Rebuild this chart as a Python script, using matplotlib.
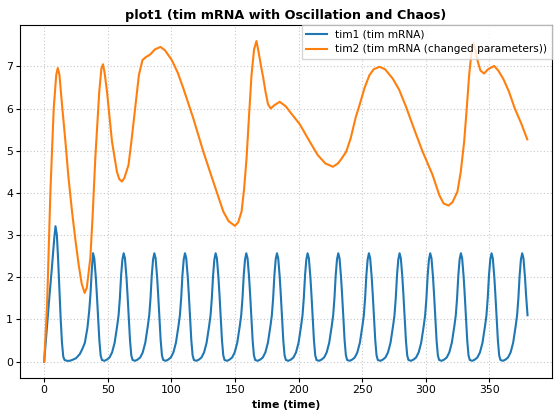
import matplotlib
matplotlib.use("Agg")
import matplotlib.pyplot as plt

# ---- tim1 (tim mRNA) ----
tim1_t = [
    0, 2, 4, 6, 8, 8.9, 10, 11, 12, 13, 14, 15, 16, 18, 20, 22, 25, 28, 30, 32, 34, 35.4, 36.4, 37.4,
    38.4, 39.4, 40.6, 41.4, 42.4, 43.4, 44.4, 45.4, 47.4, 49.4, 51.4, 53.4, 55.4, 57.4, 58.5, 59.5, 60.5, 61.5,
    62.5, 63.5, 64.7, 65.5, 66.5, 67.5, 68.5, 69.5, 71.5, 73.5, 75.5, 77.5, 79.5, 81.5, 82.6, 83.6, 84.6, 85.6,
    86.6, 87.6, 88.8, 89.6, 90.6, 91.6, 92.6, 93.6, 95.6, 97.6, 99.6, 101.6, 103.6, 105.6, 106.7, 107.7, 108.7, 109.7,
    110.7, 111.7, 112.9, 113.7, 114.7, 115.7, 116.7, 117.7, 119.7, 121.7, 123.7, 125.7, 127.7, 129.7, 130.8, 131.8, 132.8, 133.8,
    134.8, 135.8, 137.0, 137.8, 138.8, 139.8, 140.8, 141.8, 143.8, 145.8, 147.8, 149.8, 151.8, 153.8, 154.9, 155.9, 156.9, 157.9,
    158.9, 159.9, 161.1, 161.9, 162.9, 163.9, 164.9, 165.9, 167.9, 169.9, 171.9, 173.9, 175.9, 177.9, 179.0, 180.0, 181.0, 182.0,
    183.0, 184.0, 185.2, 186.0, 187.0, 188.0, 189.0, 190.0, 192.0, 194.0, 196.0, 198.0, 200.0, 202.0, 203.1, 204.1, 205.1, 206.1,
    207.1, 208.1, 209.3, 210.1, 211.1, 212.1, 213.1, 214.1, 216.1, 218.1, 220.1, 222.1, 224.1, 226.1, 227.2, 228.2, 229.2, 230.2,
    231.2, 232.2, 233.4, 234.2, 235.2, 236.2, 237.2, 238.2, 240.2, 242.2, 244.2, 246.2, 248.2, 250.2, 251.3, 252.3, 253.3, 254.3,
    255.3, 256.3, 257.5, 258.3, 259.3, 260.3, 261.3, 262.3, 264.3, 266.3, 268.3, 270.3, 272.3, 274.3, 275.4, 276.4, 277.4, 278.4,
    279.4, 280.4, 281.6, 282.4, 283.4, 284.4, 285.4, 286.4, 288.4, 290.4, 292.4, 294.4, 296.4, 298.4, 299.5, 300.5, 301.5, 302.5,
    303.5, 304.5, 305.7, 306.5, 307.5, 308.5, 309.5, 310.5, 312.5, 314.5, 316.5, 318.5, 320.5, 322.5, 323.6, 324.6, 325.6, 326.6,
    327.6, 328.6, 329.8, 330.6, 331.6, 332.6, 333.6, 334.6, 336.6, 338.6, 340.6, 342.6, 344.6, 346.6, 347.7, 348.7, 349.7, 350.7,
    351.7, 352.7, 353.9, 354.7, 355.7, 356.7, 357.7, 358.7, 360.7, 362.7, 364.7, 366.7, 368.7, 370.7, 371.8, 372.8, 373.8, 374.8,
    375.8, 376.8, 378.0, 378.8, 380.0,
]
tim1_v = [
    0, 0.75, 1.5, 2.2, 2.95, 3.21, 3.0, 2.4, 1.7, 1.0, 0.45, 0.12, 0.04, 0.02, 0.02, 0.04, 0.08, 0.18, 0.3, 0.45, 0.8, 1.2, 1.6, 2.15,
    2.57, 2.45, 2.0, 1.6, 1.05, 0.5, 0.15, 0.04, 0.02, 0.05, 0.1, 0.22, 0.45, 0.85, 1.1, 1.5, 2.05, 2.42,
    2.57, 2.45, 2.0, 1.6, 1.05, 0.5, 0.15, 0.04, 0.02, 0.05, 0.1, 0.22, 0.45, 0.85, 1.1, 1.5, 2.05, 2.42,
    2.57, 2.45, 2.0, 1.6, 1.05, 0.5, 0.15, 0.04, 0.02, 0.05, 0.1, 0.22, 0.45, 0.85, 1.1, 1.5, 2.05, 2.42,
    2.57, 2.45, 2.0, 1.6, 1.05, 0.5, 0.15, 0.04, 0.02, 0.05, 0.1, 0.22, 0.45, 0.85, 1.1, 1.5, 2.05, 2.42,
    2.57, 2.45, 2.0, 1.6, 1.05, 0.5, 0.15, 0.04, 0.02, 0.05, 0.1, 0.22, 0.45, 0.85, 1.1, 1.5, 2.05, 2.42,
    2.57, 2.45, 2.0, 1.6, 1.05, 0.5, 0.15, 0.04, 0.02, 0.05, 0.1, 0.22, 0.45, 0.85, 1.1, 1.5, 2.05, 2.42,
    2.57, 2.45, 2.0, 1.6, 1.05, 0.5, 0.15, 0.04, 0.02, 0.05, 0.1, 0.22, 0.45, 0.85, 1.1, 1.5, 2.05, 2.42,
    2.57, 2.45, 2.0, 1.6, 1.05, 0.5, 0.15, 0.04, 0.02, 0.05, 0.1, 0.22, 0.45, 0.85, 1.1, 1.5, 2.05, 2.42,
    2.57, 2.45, 2.0, 1.6, 1.05, 0.5, 0.15, 0.04, 0.02, 0.05, 0.1, 0.22, 0.45, 0.85, 1.1, 1.5, 2.05, 2.42,
    2.57, 2.45, 2.0, 1.6, 1.05, 0.5, 0.15, 0.04, 0.02, 0.05, 0.1, 0.22, 0.45, 0.85, 1.1, 1.5, 2.05, 2.42,
    2.57, 2.45, 2.0, 1.6, 1.05, 0.5, 0.15, 0.04, 0.02, 0.05, 0.1, 0.22, 0.45, 0.85, 1.1, 1.5, 2.05, 2.42,
    2.57, 2.45, 2.0, 1.6, 1.05, 0.5, 0.15, 0.04, 0.02, 0.05, 0.1, 0.22, 0.45, 0.85, 1.1, 1.5, 2.05, 2.42,
    2.57, 2.45, 2.0, 1.6, 1.05, 0.5, 0.15, 0.04, 0.02, 0.05, 0.1, 0.22, 0.45, 0.85, 1.1, 1.5, 2.05, 2.42,
    2.57, 2.45, 2.0, 1.6, 1.05, 0.5, 0.15, 0.04, 0.02, 0.05, 0.1, 0.22, 0.45, 0.85, 1.1, 1.5, 2.05, 2.42,
    2.57, 2.45, 2.0, 1.6, 1.1,
]

# ---- tim2 (tim mRNA, changed parameters) ----
tim2_t = [
    0, 2.3, 4.9, 7.5, 9.5, 10.7, 12, 14, 16.7, 19, 21.9, 24.5, 27.1, 29.5, 31.8, 33.5, 36.3, 38,
    40.2, 43.3, 45, 46.2, 47.5, 49.4, 53.3, 57.2, 59, 61.1, 63, 66.3, 68.5, 71.5, 74.5, 77.3, 80,
    83.3, 87, 91.4, 95, 100.3, 105, 109.4, 117.2, 125.1, 132.9, 140.8, 145, 149.9, 152.5, 155.2,
    157.2, 159.1, 161, 163, 165, 166.9, 168.5, 170.5, 172.1, 174, 176, 178.1, 181, 185.2, 190, 193,
    200.9, 208.7, 215, 221, 227, 231, 234, 237.5, 241, 245, 247.9, 252, 255.7, 259, 263.6, 268, 274,
    279, 284.5, 291, 297.5, 305.3, 310.6, 314, 317.9, 321, 324.9, 327.5, 330.2, 332.2, 334.1, 336,
    337.5, 339, 341, 343, 345.8, 349, 353.7, 357, 361, 365.4, 370, 375, 379.8,
]
tim2_v = [
    0, 1.35, 4.03, 6.0, 6.8, 6.96, 6.8, 6.1, 5.22, 4.4, 3.56, 2.9, 2.3, 1.85, 1.63, 1.75, 2.46, 3.4,
    4.82, 6.4, 6.95, 7.05, 6.85, 6.4, 5.22, 4.5, 4.33, 4.27, 4.35, 4.66, 5.2, 6.0, 6.8, 7.15, 7.22,
    7.28, 7.4, 7.46, 7.38, 7.15, 6.85, 6.48, 5.77, 4.98, 4.27, 3.56, 3.33, 3.22, 3.3, 3.56,
    4.1, 4.82, 5.8, 6.79, 7.4, 7.6, 7.35, 7.0, 6.75, 6.4, 6.1, 6.0, 6.08, 6.16, 6.05, 5.93,
    5.63, 5.22, 4.9, 4.7, 4.62, 4.7, 4.82, 4.98, 5.3, 5.8, 6.08, 6.5, 6.79, 6.93, 6.99, 6.93, 6.71,
    6.45, 6.04, 5.5, 4.98, 4.43, 3.95, 3.75, 3.70, 3.78, 4.03, 4.5, 5.22, 6.0, 6.79, 7.35,
    7.55, 7.4, 7.1, 6.9, 6.83, 6.93, 7.01, 6.9, 6.7, 6.4, 6.0, 5.65, 5.27,
]

labels = ["tim1 (tim mRNA)", "tim2 (tim mRNA (changed parameters))"]
title = "plot1 (tim mRNA with Oscillation and Chaos)"
xlabel = "time (time)"

fig = plt.figure(figsize=(5.55, 4.15), dpi=100)
ax = fig.add_axes([20 / 555, 1 - 377.7 / 415, (551.7 - 20) / 555, (377.7 - 25) / 415])
ax.plot(tim1_t, tim1_v, color="#1f77b4", lw=1.5, label=labels[0])
ax.plot(tim2_t, tim2_v, color="#ff7f0e", lw=1.5, label=labels[1])
ax.grid(True, linestyle=(0, (1, 2)), color="#c8c8c8", lw=0.8)
ax.set_title(title, fontsize=9.2, fontweight="bold", pad=4)
ax.set_xlabel(xlabel, fontsize=7.8, fontweight="bold", labelpad=4)
ax.tick_params(labelsize=7.8, length=3, pad=2)
ax.legend(loc="upper right", fontsize=7.6, borderaxespad=0, fancybox=False)
fig.savefig("out.png", dpi=100)
